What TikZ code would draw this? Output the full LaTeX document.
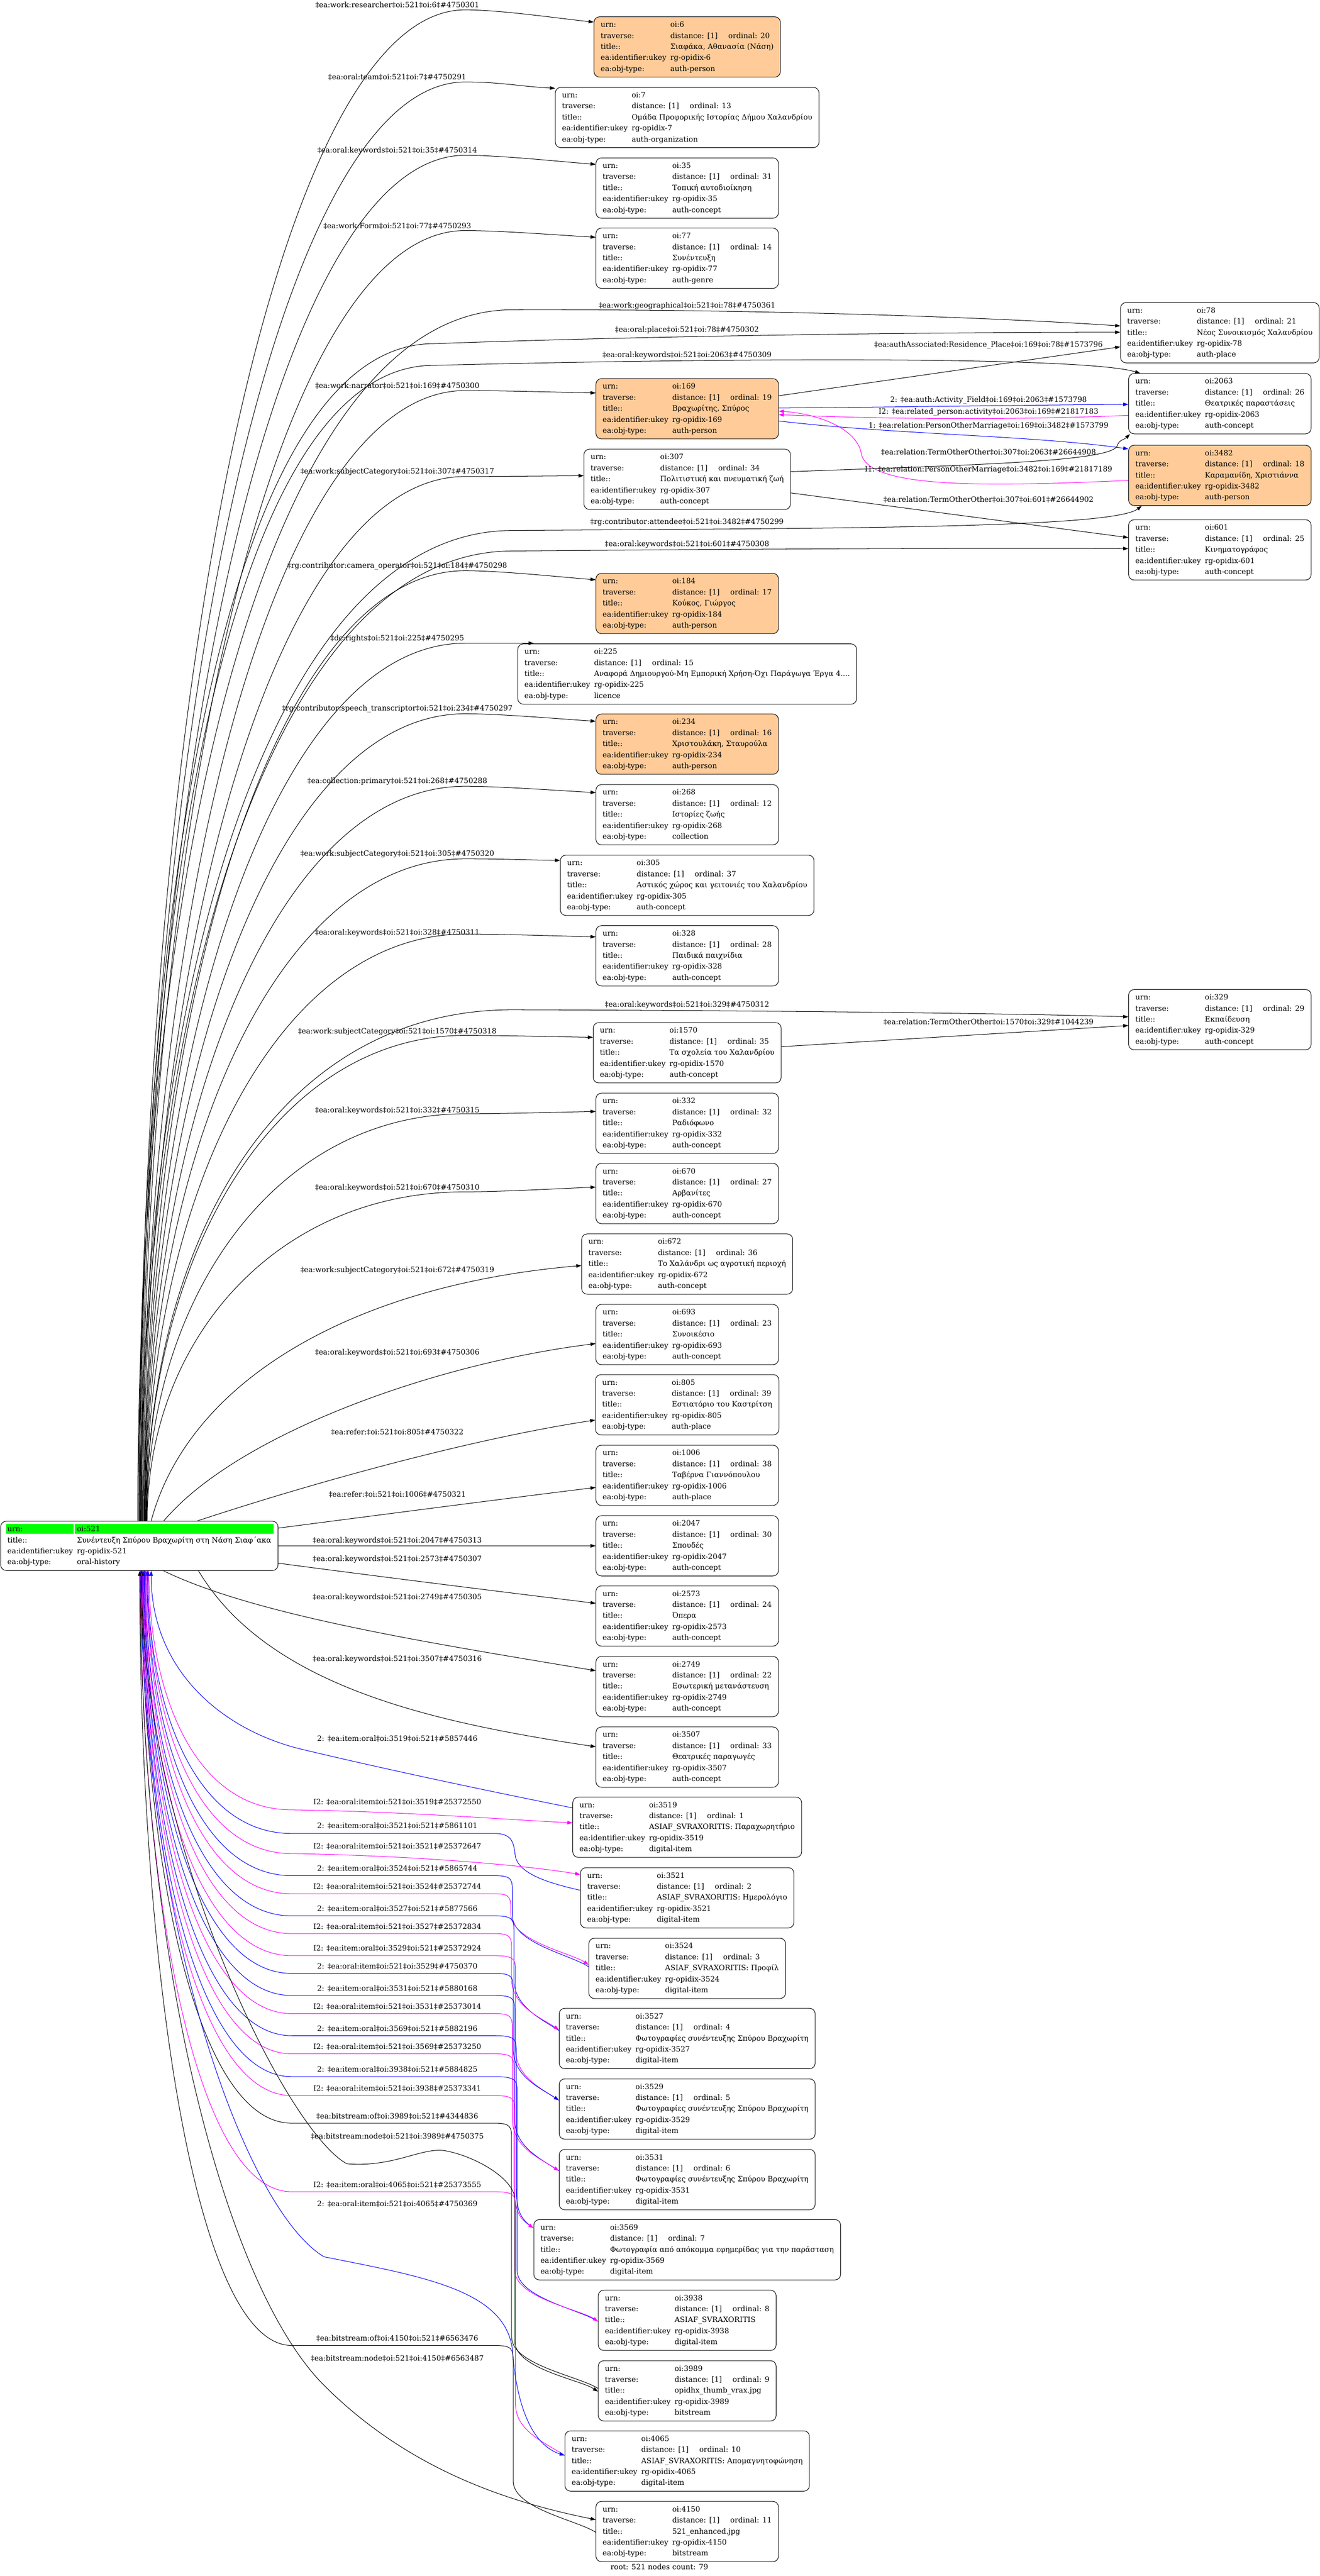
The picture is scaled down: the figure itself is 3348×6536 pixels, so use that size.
\documentclass[tikz,border=0pt]{standalone}
\usepackage{fontspec}
\setmainfont{DejaVu Serif}
\usetikzlibrary{arrows.meta}
\pgfdeclarelayer{bg}
\pgfsetlayers{bg,main}
\definecolor{peach}{HTML}{FFCC99}
\definecolor{gfill}{HTML}{00FF00}
\definecolor{bl}{HTML}{0000FF}
\definecolor{mg}{HTML}{FF00FF}
\newcommand\rectab[4]{%
\begin{tabular}{@{}l@{\hspace{10pt}}l@{\hspace{27pt}}l@{}}
urn: & \multicolumn{2}{@{}l@{}}{oi:#1}\\
traverse: & distance: [1] & ordinal: #2\\
title:: & \multicolumn{2}{@{}l@{}}{#3}\\
ea:identifier:ukey & \multicolumn{2}{@{}l@{}}{rg-opidix-#1}\\
ea:obj-type: & \multicolumn{2}{@{}l@{}}{#4}
\end{tabular}}
\newcommand\cnode[6]{\node[rec,#1] (n#2) at (1743.5,#3) {\rectab{#2}{#4}{#5}{#6}};}
\newcommand\rnode[6]{\node[rec,#1] (n#2) at (3095,#3) {\rectab{#2}{#4}{#5}{#6}};}
\newcommand\lab[4]{\node[lab] (#1) at (#2,#3) {#4};}
\newcommand\tedge[4]{\draw[conn] ([xshift=#1pt]n521.north) .. controls +(0,{-0.55*(3859-#2)}) and +(-480,0) .. (1180,#2) .. controls +(90,0) and +(-90,{-0.3*(#4-#2)}) .. (#3);}
\newcommand\cedge[6]{\draw[#1] ([xshift=#2pt]n521.south) .. controls +(0,{0.5*(#3-3983)}) and +(-250,0) .. (740,#3) -- (1255,#3) .. controls +({#4-1255},0) and +(0,-35) .. (#4,{#3+45}) -- (#4,{#5-130}) .. controls +(0,70) and +(-45,-30) .. (#6);}
\begin{document}
\begin{tikzpicture}[x=1pt,y=-1pt,
 rec/.style={draw, line width=1.33pt, rounded corners=14pt, inner xsep=17pt, inner ysep=6.5pt, anchor=north, font=\fontsize{18.67pt}{28pt}\selectfont},
 persn/.style={fill=peach},
 lab/.style={inner sep=0pt, font=\fontsize{18.67pt}{28pt}\selectfont},
 conn/.style={line width=1.33pt, -{Triangle[length=13pt,width=9pt]}},
 rconn/.style={line width=1.33pt, {Triangle[length=13pt,width=9pt]}-}]
\begin{pgfonlayer}{bg}
\fill[white] (0,0) rectangle (3348,6536);
\end{pgfonlayer}
\useasboundingbox (0,0) rectangle (3348,6536);
% ---------- nodes ----------
\node[rec] (n521) at (353.5,3859) {\begin{tabular}{@{}l@{\hspace{10pt}}l@{}}
urn: & oi:521\\
title:: & Συνέντευξη Σπύρου Βραχωρίτη στη Νάση Σιαφ΄ακα\\
ea:identifier:ukey & rg-opidix-521\\
ea:obj-type: & oral-history
\end{tabular}};
\begin{pgfonlayer}{bg}
\fill[gfill] ([xshift=14pt,yshift=-8pt]n521.north west) rectangle ([xshift=186pt,yshift=-32pt]n521.north west);
\fill[gfill] ([xshift=189pt,yshift=-8pt]n521.north west) rectangle ([xshift=-12pt,yshift=-32pt]n521.north east);
\end{pgfonlayer}
\cnode{persn}{6}{42}{20}{Σιαφάκα, Αθανασία (Νάση)}{auth-person}
\cnode{}{7}{221}{13}{Ομάδα Προφορικής Ιστορίας Δήμου Χαλανδρίου}{auth-organization}
\cnode{}{35}{400}{31}{Τοπική αυτοδιοίκηση}{auth-concept}
\cnode{}{77}{578}{14}{Συνέντευξη}{auth-genre}
\cnode{persn}{169}{960}{19}{Βραχωρίτης, Σπύρος}{auth-person}
\cnode{}{307}{1139}{34}{Πολιτιστική και πνευματική ζωή}{auth-concept}
\cnode{persn}{184}{1454}{17}{Κούκος, Γιώργος}{auth-person}
\cnode{}{225}{1633}{15}{Αναφορά Δημιουργού-Μη Εμπορική Χρήση-Όχι Παράγωγα Έργα 4....}{licence}
\cnode{persn}{234}{1811}{16}{Χριστουλάκη, Σταυρούλα}{auth-person}
\cnode{}{268}{1990}{12}{Ιστορίες ζωής}{collection}
\cnode{}{305}{2169}{37}{Αστικός χώρος και γειτονιές του Χαλανδρίου}{auth-concept}
\cnode{}{328}{2348}{28}{Παιδικά παιχνίδια}{auth-concept}
\cnode{}{1570}{2594}{35}{Τα σχολεία του Χαλανδρίου}{auth-concept}
\cnode{}{332}{2773}{32}{Ραδιόφωνο}{auth-concept}
\cnode{}{670}{2951}{27}{Αρβανίτες}{auth-concept}
\cnode{}{672}{3130}{36}{Το Χαλάνδρι ως αγροτική περιοχή}{auth-concept}
\cnode{}{693}{3309}{23}{Συνοικέσιο}{auth-concept}
\cnode{}{805}{3487}{39}{Εστιατόριο του Καστρίτση}{auth-place}
\cnode{}{1006}{3666}{38}{Ταβέρνα Γιαννόπουλου}{auth-place}
\cnode{}{2047}{3845}{30}{Σπουδές}{auth-concept}
\cnode{}{2573}{4023}{24}{Όπερα}{auth-concept}
\cnode{}{2749}{4202}{22}{Εσωτερική μετανάστευση}{auth-concept}
\cnode{}{3507}{4381}{33}{Θεατρικές παραγωγές}{auth-concept}
\cnode{}{3519}{4559}{1}{ASIAF\_SVRAXORITIS: Παραχωρητήριο}{digital-item}
\cnode{}{3521}{4738}{2}{ASIAF\_SVRAXORITIS: Ημερολόγιο}{digital-item}
\cnode{}{3524}{4917}{3}{ASIAF\_SVRAXORITIS: Προφίλ}{digital-item}
\cnode{}{3527}{5095}{4}{Φωτογραφίες συνέντευξης Σπύρου Βραχωρίτη}{digital-item}
\cnode{}{3529}{5274}{5}{Φωτογραφίες συνέντευξης Σπύρου Βραχωρίτη}{digital-item}
\cnode{}{3531}{5453}{6}{Φωτογραφίες συνέντευξης Σπύρου Βραχωρίτη}{digital-item}
\cnode{}{3569}{5631}{7}{Φωτογραφία από απόκομμα εφημερίδας για την παράσταση}{digital-item}
\cnode{}{3938}{5810}{8}{ASIAF\_SVRAXORITIS}{digital-item}
\cnode{}{3989}{5989}{9}{opidhx\_thumb\_vrax.jpg}{bitstream}
\cnode{}{4065}{6167}{10}{ASIAF\_SVRAXORITIS: Απομαγνητοφώνηση}{digital-item}
\cnode{}{4150}{6346}{11}{521\_enhanced.jpg}{bitstream}
\rnode{}{78}{767}{21}{Νέος Συνοικισμός Χαλανδρίου}{auth-place}
\rnode{}{2063}{947}{26}{Θεατρικές παραστάσεις}{auth-concept}
\rnode{persn}{3482}{1129}{18}{Καραμανίδη, Χριστιάννα}{auth-person}
\rnode{}{601}{1318}{25}{Κινηματογράφος}{auth-concept}
\rnode{}{329}{2510}{29}{Εκπαίδευση}{auth-concept}
% ---------- edges from 521 upward ----------
\tedge{0}{25}{[yshift=-14pt]n6.north west}{56}
\tedge{2}{208}{[yshift=-3pt]n7.north west}{224}
\tedge{4}{394}{[yshift=-17pt]n35.north west}{417}
\tedge{6}{585}{[yshift=-24pt]n77.north west}{602}
\tedge{8}{991}{[yshift=-37pt]n169.north west}{997}
\tedge{10}{1209}{[yshift=-68pt]n307.north west}{1207}
\tedge{12}{1448}{[yshift=-17pt]n184.north west}{1471}
\tedge{13}{1632}{[xshift=41pt,yshift=1pt]n225.north west}{1632}
\tedge{14}{1811}{[yshift=-19pt]n234.north west}{1830}
\tedge{15}{1995}{[yshift=-21pt]n268.north west}{2011}
\tedge{16}{2179}{[yshift=-14pt]n305.north west}{2183}
\tedge{17}{2370}{[yshift=-29pt]n328.north west}{2377}
\tedge{18}{2627}{[yshift=-38pt]n1570.north west}{2632}
\tedge{19}{2826}{[yshift=-47pt]n332.north west}{2820}
\tedge{20}{3024}{[yshift=-61pt]n670.north west}{3012}
\draw[conn] ([xshift=30pt]n521.north) .. controls (480,3500) and (900,3260) .. ([yshift=-81pt]n672.north west);
\draw[conn] ([xshift=62pt]n521.north) .. controls (600,3640) and (1100,3460) .. ([yshift=-100pt]n693.north west);
\draw[conn] ([xshift=147pt]n521.north) .. controls (800,3760) and (1200,3650) .. ([yshift=-116pt]n805.north west);
\draw[conn] ([yshift=45pt]n521.east) .. controls (1000,3839) and (1300,3800) .. ([yshift=-108pt]n1006.north west);
\draw[conn] (n521.east) -- (n2047.west);
\draw[conn] ([yshift=-44pt]n521.east) .. controls (900,3992) and (1200,4030) .. ([yshift=-45pt]n2573.north west);
\draw[conn] ([xshift=61pt]n521.south) .. controls (650,4100) and (1100,4170) .. ([yshift=-37pt]n2749.north west);
\draw[conn] ([xshift=150pt]n521.south) .. controls (680,4280) and (1100,4370) .. ([yshift=-51pt]n3507.north west);
% long edges to the right column
\draw[conn] ([xshift=-4pt]n521.north) .. controls +(0,-1750) and +(-600,0) .. (1300,786) .. controls +(700,-2) and +(-250,-17) .. ([yshift=-60pt]n78.north west);
\draw[conn] ([xshift=-2pt]n521.north) .. controls +(0,-1700) and +(-500,0) .. (1100,872) .. controls +(700,-25) and +(-300,0) .. ([yshift=-76pt]n78.north west);
\draw[conn] (n521.north) .. controls +(0,-1650) and +(-500,0) .. (1100,927) .. controls +(800,-20) and +(-140,-42) .. ([xshift=30pt]n2063.north west);
\draw[conn] ([xshift=3pt]n521.north) .. controls +(0,-1400) and +(-600,0) .. (1300,1346) .. controls +(800,-6) and +(-74,58) .. ([xshift=34pt]n3482.south west);
\draw[conn] ([xshift=5pt]n521.north) .. controls +(0,-1350) and +(-600,0) .. (1300,1398) .. controls +(700,-6) and +(-260,-2) .. ([yshift=-74pt]n601.north west);
\draw[conn] ([xshift=18pt]n521.north) .. controls +(0,-700) and +(-600,0) .. (1300,2562) .. controls +(700,2) and +(-260,-8) .. ([yshift=-70pt]n329.north west);
% edges between the other nodes
\draw[conn] ([yshift=33pt]n169.east) -- ([yshift=-113pt]n78.north west);
\draw[conn,bl] ([yshift=2pt]n169.east) .. controls +(300,-2) and +(-300,2) .. ([yshift=-79pt]n2063.north west);
\draw[conn,mg] ([yshift=-107pt]n2063.north west) .. controls +(-300,12) and +(300,12) .. ([yshift=-15pt]n169.east);
\draw[conn,bl] ([yshift=-31pt]n169.east) .. controls +(300,35) and +(-250,-35) .. ([yshift=-10pt]n3482.north west);
\draw[conn,mg] ([yshift=-90pt]n3482.north west) .. controls (2500,1235) and (2200,1240) .. (2185,1150) .. controls (2175,1090) and (2080,1050) .. ([yshift=-6pt]n169.east);
\draw[conn] ([yshift=19.5pt]n307.east) .. controls +(500,-18) and +(-10,40) .. (2835,1130) .. controls +(5,-15) and +(-15,15) .. ([xshift=4pt]n2063.south west);
\draw[conn] ([yshift=-34.5pt]n307.east) -- ([yshift=-46pt]n601.north west);
\draw[conn] ([yshift=15.5pt]n1570.east) -- ([yshift=-92pt]n329.north west);
% ---------- edges below 521 ----------
\draw[rconn,bl] ([xshift=30pt]n521.south) .. controls +(0,250) and +(-200,-50) .. (760,4437) .. controls +(250,60) and +(-150,-30) .. ([yshift=-28pt]n3519.north west);
\draw[conn,mg] ([xshift=24pt]n521.south) .. controls +(0,305) and +(-250,0) .. (740,4592) .. controls +(300,5) and +(-200,-10) .. ([yshift=-66pt]n3519.north west);
\draw[rconn,bl] ([xshift=22pt]n521.south) .. controls +(0,335) and +(-250,0) .. (740,4652) -- (1255,4652) .. controls +(50,0) and +(-5,-30) .. (1308,4712) .. controls +(10,40) and +(-90,-20) .. ([yshift=-58pt]n3521.north west);
\draw[conn,mg] ([xshift=21pt]n521.south) .. controls +(0,360) and +(-250,0) .. (740,4703) .. controls +(300,5) and +(-150,-25) .. ([yshift=-18pt]n3521.north west);
\cedge{rconn,bl}{20}{4759}{1300}{4990}{[yshift=-73pt]n3524.north west}
\cedge{conn,mg}{18}{4805}{1296}{4985}{[yshift=-68pt]n3524.north west}
\cedge{rconn,bl}{16}{4861}{1304}{5152}{[yshift=-57pt]n3527.north west}
\cedge{conn,mg}{15}{4906}{1298}{5150}{[yshift=-55pt]n3527.north west}
\cedge{rconn,mg}{14}{4962}{1308}{5329}{[yshift=-55pt]n3529.north west}
\cedge{conn,bl}{13}{5007}{1302}{5329}{[yshift=-55pt]n3529.north west}
\cedge{rconn,bl}{12}{5063}{1306}{5508}{[yshift=-55pt]n3531.north west}
\cedge{conn,mg}{11}{5109}{1300}{5508}{[yshift=-55pt]n3531.north west}
\cedge{rconn,bl}{10}{5165}{1310}{5653}{[yshift=-22pt]n3569.north west}
\cedge{conn,mg}{9}{5211}{1304}{5653}{[yshift=-22pt]n3569.north west}
\cedge{rconn,bl}{8}{5269}{1312}{5890}{[yshift=-80pt]n3938.north west}
\cedge{conn,mg}{7}{5317}{1306}{5890}{[yshift=-80pt]n3938.north west}
\cedge{rconn}{6}{5387}{1298}{6060}{[yshift=-71pt]n3989.north west}
\draw[conn] ([xshift=5pt]n521.south) .. controls +(0,700) and +(-150,-80) .. (880,5490) .. controls +(120,10) and +(-60,-10) .. (1130,5457) .. controls +(80,15) and +(0,-50) .. (1306,5580) -- (1306,5940) .. controls +(0,70) and +(-45,-30) .. ([yshift=-79pt]n3989.north west);
\cedge{rconn,mg}{3}{5561}{1308}{6230}{[yshift=-63pt]n4065.north west}
\draw[conn,bl] ([xshift=4pt]n521.south) .. controls +(0,900) and +(-200,-120) .. (822,5726) .. controls +(250,50) and +(-20,-150) .. (1300,5960) .. controls +(10,150) and +(-80,-25) .. ([yshift=-63pt]n4065.north west);
\cedge{rconn}{1}{5951}{1302}{6425}{[yshift=-79pt]n4150.north west}
\draw[conn] ([xshift=2pt]n521.south) .. controls +(0,1000) and +(-250,-250) .. (822,6052) .. controls +(200,200) and +(-250,-50) .. ([yshift=-47pt]n4150.north west);
% ---------- labels ----------
\lab{a6}{1008}{13}{‡ea:work:researcher‡oi:521‡oi:6‡\#4750301}
\lab{a7}{1008}{196}{‡ea:oral:team‡oi:521‡oi:7‡\#4750291}
\lab{a35}{1008}{382}{‡ea:oral:keywords‡oi:521‡oi:35‡\#4750314}
\lab{a77}{1008}{573}{‡ea:work:Form‡oi:521‡oi:77‡\#4750293}
\lab{a169}{1008}{979}{‡ea:work:narrator‡oi:521‡oi:169‡\#4750300}
\lab{a307}{1008}{1197}{‡ea:work:subjectCategory‡oi:521‡oi:307‡\#4750317}
\lab{a184}{1008}{1436}{‡rg:contributor:camera\_operator‡oi:521‡oi:184‡\#4750298}
\lab{a225}{1008}{1620}{‡dc:rights‡oi:521‡oi:225‡\#4750295}
\lab{a234}{1008}{1799}{‡rg:contributor:speech\_transcriptor‡oi:521‡oi:234‡\#4750297}
\lab{a268}{1008}{1983}{‡ea:collection:primary‡oi:521‡oi:268‡\#4750288}
\lab{a305}{1008}{2167}{‡ea:work:subjectCategory‡oi:521‡oi:305‡\#4750320}
\lab{a328}{1008}{2367}{‡ea:oral:keywords‡oi:521‡oi:328‡\#4750311}
\lab{a1570}{1008}{2618}{‡ea:work:subjectCategory‡oi:521‡oi:1570‡\#4750318}
\lab{a332}{1008}{2818}{‡ea:oral:keywords‡oi:521‡oi:332‡\#4750315}
\lab{a670}{1008}{3014}{‡ea:oral:keywords‡oi:521‡oi:670‡\#4750310}
\lab{a672}{1008}{3223}{‡ea:work:subjectCategory‡oi:521‡oi:672‡\#4750319}
\lab{a693}{1008}{3432}{‡ea:oral:keywords‡oi:521‡oi:693‡\#4750306}
\lab{a805}{1008}{3634}{‡ea:refer:‡oi:521‡oi:805‡\#4750322}
\lab{a1006}{1008}{3792}{‡ea:refer:‡oi:521‡oi:1006‡\#4750321}
\lab{a2047}{1008}{3909}{‡ea:oral:keywords‡oi:521‡oi:2047‡\#4750313}
\lab{a2573}{1008}{3956}{‡ea:oral:keywords‡oi:521‡oi:2573‡\#4750307}
\lab{a2749}{1008}{4053}{‡ea:oral:keywords‡oi:521‡oi:2749‡\#4750305}
\lab{a3507}{1008}{4210}{‡ea:oral:keywords‡oi:521‡oi:3507‡\#4750316}
\lab{b78a}{1743}{776}{‡ea:work:geographical‡oi:521‡oi:78‡\#4750361}
\lab{b78b}{1743}{837}{‡ea:oral:place‡oi:521‡oi:78‡\#4750302}
\lab{b2063}{1743}{901}{‡ea:oral:keywords‡oi:521‡oi:2063‡\#4750309}
\lab{b3482}{1743}{1325}{‡rg:contributor:attendee‡oi:521‡oi:3482‡\#4750299}
\lab{b601}{1743}{1381}{‡ea:oral:keywords‡oi:521‡oi:601‡\#4750308}
\lab{b329}{1743}{2550}{‡ea:oral:keywords‡oi:521‡oi:329‡\#4750312}
\lab{r1}{2508}{875}{‡ea:authAssociated:Residence\_Place‡oi:169‡oi:78‡\#1573796}
\lab{r2}{2508}{1015}{2: ‡ea:auth:Activity\_Field‡oi:169‡oi:2063‡\#1573798}
\lab{r3}{2508}{1045}{I2: ‡ea:related\_person:activity‡oi:2063‡oi:169‡\#21817183}
\lab{r4}{2508}{1081}{1: ‡ea:relation:PersonOtherMarriage‡oi:169‡oi:3482‡\#1573799}
\lab{r5}{2508}{1147}{‡ea:relation:TermOtherOther‡oi:307‡oi:2063‡\#26644908}
\lab{r6}{2508}{1192}{I1: ‡ea:relation:PersonOtherMarriage‡oi:3482‡oi:169‡\#21817189}
\lab{r7}{2508}{1268}{‡ea:relation:TermOtherOther‡oi:307‡oi:601‡\#26644902}
\lab{r8}{2508}{2593}{‡ea:relation:TermOtherOther‡oi:1570‡oi:329‡\#1044239}
\lab{c1}{1008}{4412}{2: ‡ea:item:oral‡oi:3519‡oi:521‡\#5857446}
\lab{c2}{1008}{4572}{I2: ‡ea:oral:item‡oi:521‡oi:3519‡\#25372550}
\lab{c3}{1008}{4632}{2: ‡ea:item:oral‡oi:3521‡oi:521‡\#5861101}
\lab{c4}{1008}{4685}{I2: ‡ea:oral:item‡oi:521‡oi:3521‡\#25372647}
\lab{c5}{1008}{4741}{2: ‡ea:item:oral‡oi:3524‡oi:521‡\#5865744}
\lab{c6}{1008}{4787}{I2: ‡ea:oral:item‡oi:521‡oi:3524‡\#25372744}
\lab{c7}{1008}{4843}{2: ‡ea:item:oral‡oi:3527‡oi:521‡\#5877566}
\lab{c8}{1008}{4888}{I2: ‡ea:oral:item‡oi:521‡oi:3527‡\#25372834}
\lab{c9}{1008}{4944}{I2: ‡ea:item:oral‡oi:3529‡oi:521‡\#25372924}
\lab{c10}{1008}{4989}{2: ‡ea:oral:item‡oi:521‡oi:3529‡\#4750370}
\lab{c11}{1008}{5045}{2: ‡ea:item:oral‡oi:3531‡oi:521‡\#5880168}
\lab{c12}{1008}{5091}{I2: ‡ea:oral:item‡oi:521‡oi:3531‡\#25373014}
\lab{c13}{1008}{5147}{2: ‡ea:item:oral‡oi:3569‡oi:521‡\#5882196}
\lab{c14}{1008}{5193}{I2: ‡ea:oral:item‡oi:521‡oi:3569‡\#25373250}
\lab{c15}{1008}{5251}{2: ‡ea:item:oral‡oi:3938‡oi:521‡\#5884825}
\lab{c16}{1008}{5299}{I2: ‡ea:oral:item‡oi:521‡oi:3938‡\#25373341}
\lab{c17}{1008}{5369}{‡ea:bitstream:of‡oi:3989‡oi:521‡\#4344836}
\lab{c18}{1008}{5420}{‡ea:bitstream:node‡oi:521‡oi:3989‡\#4750375}
\lab{c19}{1008}{5543}{I2: ‡ea:item:oral‡oi:4065‡oi:521‡\#25373555}
\lab{c20}{1008}{5592}{2: ‡ea:oral:item‡oi:521‡oi:4065‡\#4750369}
\lab{c21}{1008}{5933}{‡ea:bitstream:of‡oi:4150‡oi:521‡\#6563476}
\lab{c22}{1008}{5984}{‡ea:bitstream:node‡oi:521‡oi:4150‡\#6563487}
\lab{cap}{1673}{6513}{root: 521 nodes count: 79}
\end{tikzpicture}
\end{document}
